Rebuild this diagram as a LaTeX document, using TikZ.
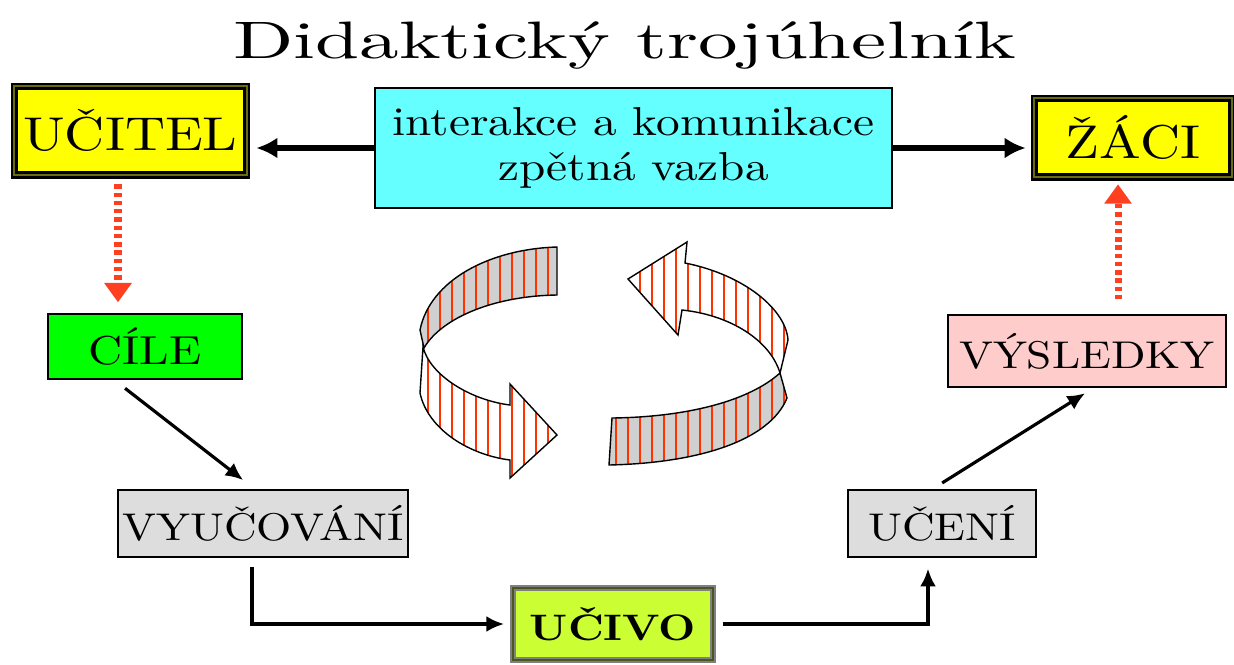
\documentclass[tikz,border=0pt]{standalone}
\usepackage{fontspec}
\setmainfont{lmroman10-regular.otf}[FakeStretch=1.17,BoldFont=lmroman10-bold.otf]
\newfontfamily\titlefont{lmroman10-regular.otf}[FakeStretch=1.5]
\usepackage{xcolor}
\usetikzlibrary{arrows.meta}

\definecolor{boxyellow}{HTML}{FFFF00}
\definecolor{frameolive}{HTML}{6B6B10}
\definecolor{boxcyan}{HTML}{66FFFF}
\definecolor{boxgreen}{HTML}{00FF00}
\definecolor{boxgray}{HTML}{DDDDDD}
\definecolor{boxlime}{HTML}{CCFF33}
\definecolor{limeedge}{HTML}{4A5520}
\definecolor{boxpink}{HTML}{FFCCCC}
\definecolor{dotred}{HTML}{FF4020}
\definecolor{stripered}{HTML}{FF3300}
\definecolor{ribbongray}{HTML}{D0D0D0}

\begin{document}
\begin{tikzpicture}[x=0.02cm, y=-0.02cm,
    box/.style={draw=black, line width=0.8pt, inner sep=0pt, font=\fontsize{22}{26}\selectfont},
    framed/.style={box, fill=boxyellow, line width=1.5pt, double=frameolive, double distance=1pt, font=\fontsize{27}{32}\selectfont},
    link/.style={line width=1.8pt, -{Latex[length=10pt,width=9pt]}},
    bigarrow/.style={line width=3.2pt, -{Latex[length=12pt,width=12pt]}},
    dotarrow/.style={draw=dotred, line width=4pt, dash pattern=on 2.5pt off 2.2pt, -{Triangle[length=11pt,width=15pt]}},
    stripe/.style={draw=stripered, line width=1.3pt},
    ribbon/.style={draw=black, line width=0.8pt}]

    % Fix the page size
    \useasboundingbox (0,0) rectangle (1234,664);

    % Title
    \node[anchor=base, font=\titlefont\fontsize{30}{36}\selectfont] (title) at (625,58) {Didaktický trojúhelník};

    % Top row
    \node[framed, minimum width=4.66cm, minimum height=1.78cm] (ucitel) at (130.5,130.5) {UČITEL};
    \node[box, fill=boxcyan, minimum width=10.34cm, minimum height=2.4cm, align=center, font=\fontsize{23}{26}\selectfont] (interakce) at (633.5,148) {interakce a komunikace\\zpětná vazba};
    \node[framed, minimum width=3.96cm, minimum height=1.58cm] (zaci) at (1133,137.5) {ŽÁCI};

    % Left side
    \node[box, fill=boxgreen, minimum width=3.88cm, minimum height=1.3cm, font=\fontsize{23}{27}\selectfont] (cile) at (145,346.5) {CÍLE};
    \node[box, fill=boxgray, minimum width=5.8cm, minimum height=1.34cm] (vyucovani) at (263,523.5) {VYUČOVÁNÍ};

    % Bottom
    \node[box, fill=boxlime, draw=gray, line width=1.1pt, double=limeedge, double distance=1pt, minimum width=4cm, minimum height=1.44cm, font=\bfseries\fontsize{21}{25}\selectfont] (ucivo) at (613,624) {UČIVO};

    % Right side
    \node[box, fill=boxgray, minimum width=3.76cm, minimum height=1.34cm] (uceni) at (942,523.5) {UČENÍ};
    \node[box, fill=boxpink, minimum width=5.56cm, minimum height=1.44cm] (vysledky) at (1087,351) {VÝSLEDKY};

    % Arrows from the middle box
    \draw[bigarrow, shorten >=0.16cm] (interakce.west) -- (interakce.west -| ucitel.east);
    \draw[bigarrow, shorten >=0.14cm] (interakce.east) -- (interakce.east -| zaci.west);

    % Dotted arrows
    \coordinate (ucitelfoot) at ([xshift=-0.25cm]ucitel.south);
    \coordinate (zacifoot) at ([xshift=-0.3cm]zaci.south);
    \draw[dotarrow, shorten <=0.16cm, shorten >=0.22cm] (ucitelfoot) -- (ucitelfoot |- cile.north);
    \draw[dotarrow, shorten <=0.3cm, shorten >=0.12cm] (zacifoot |- vysledky.north) -- (zacifoot);

    % The cycle of boxes
    \draw[link, shorten <=0.28cm, shorten >=0.3cm] ([xshift=-0.62cm]cile.south) -- ([xshift=-0.16cm]vyucovani.north);
    \draw[link] ([xshift=-0.22cm,yshift=-0.18cm]vyucovani.south) |- ([xshift=-0.16cm]ucivo.west);
    \draw[link] ([xshift=0.18cm]ucivo.east) -| ([xshift=-0.28cm,yshift=-0.22cm]uceni.south);
    \draw[link, shorten <=0.24cm, shorten >=0.21cm] ([xshift=-0.2cm]uceni.north) -- ([xshift=0.14cm]vysledky.south);

    % Round arrows in the middle
    \def\leftback{(557,247) .. controls (490,249) and (430,280) .. (420,330) -- (424,348) .. controls (440,320) and (490,296) .. (557,295) -- cycle}
    \def\leftfront{(423,347) -- (420,393) .. controls (428,430) and (470,455) .. (510,460) -- (510,478) -- (557,435) -- (510,384) -- (510,405) .. controls (470,400) and (430,375) .. (423,347) -- cycle}
    \def\rightback{(612,418) .. controls (690,417) and (750,400) .. (780,373) -- (787,398) .. controls (770,440) and (700,463) .. (609,465) -- cycle}
    \def\rightfront{(780,373) -- (788,340) .. controls (786,310) and (745,275) .. (685,263) -- (687,242) -- (628,279) -- (678,335) -- (682,310) .. controls (730,315) and (770,340) .. (780,373) -- cycle}

    \begin{scope}
        \clip \leftback;
        \fill[ribbongray] \leftback;
        \foreach \x in {428,440,...,556}
            \draw[stripe] (\x,230) -- (\x,490);
    \end{scope}
    \begin{scope}
        \clip \leftfront;
        \foreach \x in {428,440,...,556}
            \draw[stripe] (\x,230) -- (\x,490);
    \end{scope}
    \draw[ribbon] \leftback;
    \draw[ribbon] \leftfront;

    \begin{scope}
        \clip \rightback;
        \fill[ribbongray] \rightback;
        \foreach \x in {616,628,...,796}
            \draw[stripe] (\x,230) -- (\x,490);
    \end{scope}
    \begin{scope}
        \clip \rightfront;
        \foreach \x in {616,628,...,796}
            \draw[stripe] (\x,230) -- (\x,490);
    \end{scope}
    \draw[ribbon] \rightback;
    \draw[ribbon] \rightfront;
\end{tikzpicture}
\end{document}
